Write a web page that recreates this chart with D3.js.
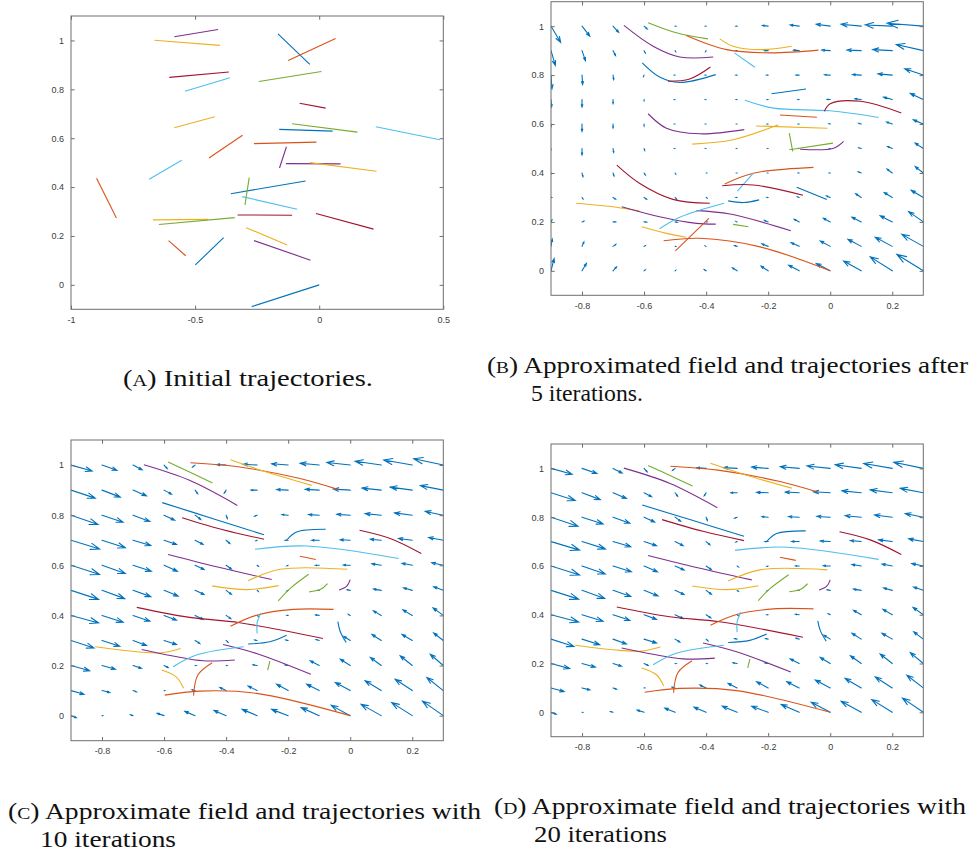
<!DOCTYPE html>
<html>
<head>
<meta charset="utf-8">
<script src="https://cdn.jsdelivr.net/npm/d3@7"></script>
<style>
  body { margin: 0; background: #fff; }
  svg { display: block; }
</style>
</head>
<body>
<svg id="fig" width="972" height="852"></svg>
<script>
// MATLAB default colour order
const lineColors = ["#0072BD", "#D95319", "#EDB120", "#7E2F8E", "#77AC30", "#4DBEEE", "#A2142F"];

// tick labels
const xTicksA = [-1, -0.5, 0, 0.5];
const xTicksField = [-0.8, -0.6, -0.4, -0.2, 0, 0.2];
const yTicks = [0, 0.2, 0.4, 0.6, 0.8, 1];

// quiver grid
const fieldCols = [-0.9, -0.8, -0.7, -0.6, -0.5, -0.4, -0.3, -0.2, -0.1, 0, 0.1, 0.2, 0.3];
const fieldRows = [1, 0.9, 0.8, 0.7, 0.6, 0.5, 0.4, 0.3, 0.2, 0.1, 0];

// (A) initial straight trajectories: [x1, y1, x2, y2]
const segA = [
  [-0.584, 1.015, -0.407, 1.045], [-0.664, 1.001, -0.400, 0.980], [-0.166, 1.027, -0.038, 0.902],
  [-0.125, 0.918, 0.066, 1.008], [-0.604, 0.849, -0.364, 0.871], [-0.541, 0.792, -0.360, 0.847],
  [-0.243, 0.832, 0.009, 0.873], [-0.079, 0.743, 0.026, 0.723], [-0.584, 0.643, -0.421, 0.688],
  [-0.109, 0.659, 0.154, 0.625], [-0.161, 0.636, 0.054, 0.629], [0.228, 0.647, 0.486, 0.594],
  [-0.444, 0.519, -0.309, 0.612], [-0.263, 0.578, -0.011, 0.584], [-0.132, 0.565, -0.160, 0.478],
  [-0.134, 0.496, 0.086, 0.495], [-0.038, 0.500, 0.231, 0.465], [-0.685, 0.432, -0.554, 0.510],
  [-0.897, 0.436, -0.817, 0.274], [-0.356, 0.373, -0.055, 0.425], [-0.282, 0.439, -0.299, 0.327],
  [-0.310, 0.361, -0.089, 0.309], [-0.670, 0.266, -0.447, 0.268], [-0.646, 0.247, -0.340, 0.275],
  [-0.329, 0.286, -0.109, 0.285], [-0.013, 0.292, 0.219, 0.228], [-0.294, 0.234, -0.129, 0.163],
  [-0.263, 0.181, -0.035, 0.101], [-0.607, 0.181, -0.538, 0.119], [-0.499, 0.082, -0.385, 0.193],
  [-0.272, -0.089, 0.000, 0.000]
];
const segAColor = [3, 2, 0, 1, 6, 5, 4, 6, 2, 4, 0, 5, 1, 1, 3, 3, 2, 5, 1, 0, 4, 5, 2, 4, 6, 6, 2, 3, 1, 0, 0];

// (B) field after 5 iterations, rows y = 1 .. 0, columns x = -0.9 .. 0.3
const fieldU5 = [
  [0.031, 0.025, 0.018, 0.010, 0.002, -0.002, -0.004, -0.018, -0.029, -0.045, -0.065, -0.087, -0.117],
  [0.014, 0.011, 0.008, 0.004, 0.002, -0.002, -0.004, -0.012, -0.018, -0.027, -0.046, -0.063, -0.087],
  [0.003, 0.002, 0.002, -0.002, -0.002, -0.003, -0.004, -0.005, -0.010, -0.018, -0.028, -0.046, -0.060],
  [0.002, 0.000, 0.000, 0.000, -0.002, -0.002, -0.003, -0.003, -0.004, -0.010, -0.020, -0.028, -0.042],
  [0.000, 0.000, 0.000, 0.000, -0.002, -0.002, -0.002, -0.003, -0.003, -0.004, -0.008, -0.018, -0.032],
  [0.000, 0.000, 0.002, 0.002, -0.002, -0.002, -0.002, -0.002, -0.003, -0.003, -0.008, -0.015, -0.026],
  [0.000, 0.003, 0.003, 0.004, 0.002, 0.002, -0.002, -0.002, -0.003, -0.003, -0.010, -0.017, -0.026],
  [0.002, 0.003, 0.008, 0.008, 0.005, 0.003, -0.004, -0.004, -0.006, -0.012, -0.018, -0.026, -0.039],
  [0.003, 0.006, 0.008, 0.008, 0.007, 0.003, -0.004, -0.012, -0.016, -0.022, -0.030, -0.039, -0.047],
  [0.004, 0.006, 0.009, 0.004, 0.002, -0.003, -0.008, -0.020, -0.026, -0.032, -0.043, -0.055, -0.069],
  [0.010, 0.014, 0.011, 0.004, 0.002, -0.006, -0.015, -0.023, -0.034, -0.045, -0.057, -0.071, -0.085]
];
const fieldV5 = [
  [-0.066, -0.041, -0.025, -0.011, 0.000, 0.000, 0.000, 0.003, 0.005, 0.008, 0.008, 0.005, 0.012],
  [-0.060, -0.041, -0.020, -0.010, -0.004, -0.004, 0.000, 0.000, 0.002, 0.002, 0.002, 0.004, 0.025],
  [-0.056, -0.038, -0.018, -0.006, 0.000, 0.000, 0.000, 0.000, 0.000, 0.001, 0.002, 0.005, 0.026],
  [-0.030, -0.030, -0.016, -0.005, 0.000, 0.000, 0.000, 0.000, 0.000, 0.001, 0.003, 0.010, 0.025],
  [-0.010, -0.030, -0.016, -0.008, 0.000, 0.000, 0.000, 0.000, 0.000, 0.001, 0.003, 0.008, 0.017],
  [-0.004, -0.026, -0.016, -0.008, 0.000, 0.000, 0.000, 0.000, 0.000, 0.000, 0.003, 0.008, 0.022],
  [-0.003, -0.015, -0.012, -0.008, -0.004, 0.000, 0.000, 0.000, 0.000, 0.000, 0.005, 0.016, 0.026],
  [0.000, -0.006, -0.007, -0.007, -0.007, -0.003, 0.000, 0.000, 0.003, 0.006, 0.015, 0.020, 0.029],
  [0.008, 0.003, 0.000, -0.001, -0.002, 0.000, 0.002, 0.006, 0.011, 0.015, 0.019, 0.025, 0.042],
  [0.030, 0.018, 0.008, 0.003, 0.000, 0.002, 0.003, 0.010, 0.015, 0.022, 0.029, 0.037, 0.049],
  [0.050, 0.030, 0.016, 0.004, 0.002, 0.005, 0.012, 0.019, 0.023, 0.030, 0.040, 0.057, 0.067]
];

// (B) trajectories after 5 iterations
const trajB = [
  [[-0.587, 1.014], [-0.496, 0.973], [-0.394, 0.948]],
  [[-0.665, 1.003], [-0.571, 0.918], [-0.485, 0.874], [-0.377, 0.874]],
  [[-0.464, 0.962], [-0.334, 0.904], [-0.194, 0.891], [-0.038, 0.902]],
  [[-0.356, 0.948], [-0.313, 0.918], [-0.226, 0.904], [-0.124, 0.918]],
  [[-0.309, 0.891], [-0.243, 0.832]],
  [[-0.606, 0.850], [-0.550, 0.792], [-0.485, 0.770], [-0.369, 0.802]],
  [[-0.523, 0.775], [-0.453, 0.784], [-0.386, 0.833]],
  [[-0.189, 0.724], [-0.078, 0.743]],
  [[-0.275, 0.697], [-0.183, 0.665], [0.000, 0.654], [0.156, 0.627]],
  [[-0.019, 0.652], [0.000, 0.683], [0.097, 0.693], [0.229, 0.645]],
  [[-0.162, 0.637], [-0.043, 0.628]],
  [[-0.587, 0.642], [-0.528, 0.583], [-0.420, 0.560], [-0.277, 0.577]],
  [[-0.445, 0.518], [-0.313, 0.536], [-0.167, 0.597]],
  [[-0.239, 0.592], [-0.009, 0.583]],
  [[-0.132, 0.563], [-0.121, 0.488]],
  [[-0.132, 0.495], [0.009, 0.522]],
  [[-0.097, 0.497], [0.011, 0.501], [0.043, 0.529]],
  [[-0.688, 0.432], [-0.615, 0.358], [-0.507, 0.292], [-0.388, 0.276]],
  [[-0.340, 0.355], [-0.248, 0.399], [-0.054, 0.423]],
  [[-0.299, 0.326], [-0.248, 0.399]],
  [[-0.348, 0.348], [-0.248, 0.351], [-0.088, 0.309]],
  [[-0.108, 0.342], [-0.011, 0.292]],
  [[-0.329, 0.286], [-0.280, 0.279], [-0.229, 0.290]],
  [[-0.819, 0.276], [-0.690, 0.260], [-0.615, 0.245]],
  [[-0.672, 0.262], [-0.550, 0.221], [-0.431, 0.194], [-0.369, 0.191]],
  [[-0.431, 0.246], [-0.323, 0.232], [-0.127, 0.164]],
  [[-0.550, 0.172], [-0.485, 0.219], [-0.342, 0.276]],
  [[-0.313, 0.190], [-0.264, 0.180]],
  [[-0.608, 0.180], [-0.528, 0.153], [-0.464, 0.137]],
  [[-0.499, 0.082], [-0.391, 0.214]],
  [[-0.537, 0.123], [-0.420, 0.133], [-0.226, 0.098], [0.000, 0.000]]
];
const trajBColor = [4, 3, 1, 2, 5, 0, 6, 0, 5, 6, 1, 3, 2, 2, 4, 4, 3, 6, 1, 5, 6, 0, 0, 2, 3, 3, 5, 4, 2, 1, 1];

// (C)/(D) converged field, rows y = 1 .. 0, columns x = -0.9 .. 0.3
const fieldU10 = [
  [0.068, 0.048, 0.029, 0.010, -0.008, -0.030, -0.045, -0.053, -0.061, -0.075, -0.084, -0.092, -0.095],
  [0.078, 0.059, 0.043, 0.024, 0.008, -0.006, -0.020, -0.037, -0.045, -0.054, -0.062, -0.071, -0.074],
  [0.087, 0.068, 0.054, 0.034, 0.018, 0.004, -0.008, -0.020, -0.034, -0.043, -0.052, -0.057, -0.058],
  [0.092, 0.075, 0.057, 0.040, 0.026, 0.012, -0.004, -0.010, -0.024, -0.032, -0.035, -0.044, -0.047],
  [0.092, 0.075, 0.059, 0.043, 0.029, 0.017, 0.004, -0.004, -0.012, -0.022, -0.030, -0.033, -0.037],
  [0.089, 0.073, 0.057, 0.045, 0.029, 0.017, 0.004, -0.004, -0.006, -0.010, -0.025, -0.028, -0.031],
  [0.089, 0.068, 0.054, 0.040, 0.026, 0.015, 0.004, -0.004, -0.012, -0.006, -0.025, -0.030, -0.033],
  [0.074, 0.057, 0.043, 0.040, 0.015, 0.006, -0.008, -0.008, -0.010, -0.020, -0.030, -0.033, -0.031],
  [0.060, 0.043, 0.027, 0.013, 0.003, 0.003, -0.013, -0.010, -0.029, -0.032, -0.035, -0.039, -0.042],
  [0.042, 0.025, 0.011, 0.002, -0.010, -0.020, -0.029, -0.037, -0.040, -0.048, -0.052, -0.055, -0.053],
  [0.017, 0.002, -0.008, -0.022, -0.033, -0.039, -0.048, -0.053, -0.058, -0.061, -0.065, -0.066, -0.067]
];
const fieldV10 = [
  [-0.024, -0.021, -0.019, -0.014, -0.008, 0.002, 0.003, 0.005, 0.007, 0.010, 0.015, 0.020, 0.025],
  [-0.032, -0.028, -0.023, -0.016, -0.014, -0.012, 0.000, 0.002, 0.003, 0.004, 0.008, 0.012, 0.018],
  [-0.037, -0.028, -0.025, -0.020, -0.017, -0.013, -0.004, 0.002, 0.002, 0.003, 0.006, 0.009, 0.015],
  [-0.035, -0.030, -0.021, -0.017, -0.017, -0.013, -0.002, 0.000, 0.000, 0.002, 0.004, 0.007, 0.011],
  [-0.037, -0.033, -0.024, -0.024, -0.017, -0.015, -0.004, -0.002, 0.000, 0.001, 0.006, 0.008, 0.010],
  [-0.036, -0.033, -0.025, -0.023, -0.017, -0.016, -0.004, -0.002, 0.000, 0.002, 0.005, 0.010, 0.014],
  [-0.030, -0.027, -0.023, -0.019, -0.016, -0.013, -0.004, 0.000, 0.002, 0.004, 0.018, 0.022, 0.030],
  [-0.030, -0.023, -0.020, -0.016, -0.012, -0.007, 0.002, 0.002, 0.004, 0.016, 0.024, 0.024, 0.030],
  [-0.021, -0.015, -0.011, -0.008, 0.000, 0.000, 0.003, 0.002, 0.019, 0.025, 0.032, 0.039, 0.045],
  [-0.015, -0.008, -0.005, 0.000, 0.003, 0.012, 0.018, 0.025, 0.025, 0.032, 0.039, 0.045, 0.052],
  [-0.008, 0.000, 0.003, 0.009, 0.017, 0.021, 0.025, 0.025, 0.032, 0.041, 0.045, 0.052, 0.058]
];

// (C)/(D) trajectories
const trajC = [
  [[-0.587, 1.012], [-0.518, 0.972], [-0.444, 0.928]],
  [[-0.665, 1.001], [-0.518, 0.939], [-0.364, 0.839]],
  [[-0.515, 1.009], [-0.356, 0.992], [-0.162, 0.946], [-0.038, 0.902]],
  [[-0.386, 1.021], [-0.270, 0.972], [-0.124, 0.919]],
  [[-0.606, 0.850], [-0.442, 0.786], [-0.278, 0.722]],
  [[-0.542, 0.790], [-0.410, 0.742], [-0.278, 0.704]],
  [[-0.205, 0.700], [-0.173, 0.733], [-0.079, 0.744]],
  [[-0.307, 0.664], [-0.140, 0.677], [0.156, 0.627]],
  [[0.030, 0.740], [0.129, 0.707], [0.229, 0.647]],
  [[-0.162, 0.636], [-0.111, 0.623]],
  [[-0.587, 0.643], [-0.431, 0.594], [-0.253, 0.543]],
  [[-0.329, 0.538], [-0.226, 0.584], [-0.009, 0.584]],
  [[-0.445, 0.518], [-0.334, 0.503], [-0.231, 0.519]],
  [[-0.232, 0.458], [-0.194, 0.507], [-0.134, 0.564]],
  [[-0.132, 0.494], [-0.097, 0.503], [-0.073, 0.527]],
  [[-0.036, 0.501], [-0.011, 0.517], [0.000, 0.543]],
  [[-0.688, 0.432], [-0.518, 0.392], [-0.356, 0.371], [-0.088, 0.308]],
  [[-0.386, 0.357], [-0.302, 0.401], [-0.183, 0.424], [-0.054, 0.424]],
  [[-0.288, 0.410], [-0.300, 0.371], [-0.300, 0.328]],
  [[-0.040, 0.375], [-0.032, 0.335], [-0.013, 0.292]],
  [[-0.329, 0.286], [-0.259, 0.295], [-0.205, 0.321]],
  [[-0.822, 0.275], [-0.679, 0.254], [-0.609, 0.251], [-0.547, 0.268]],
  [[-0.672, 0.264], [-0.571, 0.238], [-0.474, 0.219], [-0.372, 0.222]],
  [[-0.410, 0.284], [-0.302, 0.248], [-0.127, 0.165]],
  [[-0.571, 0.195], [-0.496, 0.242], [-0.343, 0.275]],
  [[-0.259, 0.218], [-0.266, 0.182]],
  [[-0.608, 0.182], [-0.561, 0.155], [-0.537, 0.109]],
  [[-0.445, 0.211], [-0.491, 0.162], [-0.505, 0.080]],
  [[-0.598, 0.082], [-0.485, 0.098], [-0.302, 0.089], [0.000, 0.000]]
];
const trajCColor = [4, 3, 1, 2, 0, 6, 0, 5, 6, 1, 3, 2, 2, 4, 4, 3, 6, 1, 5, 0, 0, 2, 3, 3, 5, 4, 2, 1, 1];

const svg = d3.select("#fig");

const panels = [
  { key: "A", box: [71, 16, 443.3, 309.3], xDomain: [-1, 0.5], xTicks: xTicksA },
  { key: "B", box: [551, 1.7, 923.3, 295.3], xDomain: [-0.9, 0.3], xTicks: xTicksField, U: fieldU5, V: fieldV5, traj: trajB, trajColor: trajBColor },
  { key: "C", box: [71, 440, 443.3, 740.7], xDomain: [-0.9, 0.3], xTicks: xTicksField, U: fieldU10, V: fieldV10, traj: trajC, trajColor: trajCColor },
  { key: "D", box: [551, 444, 923.3, 736.7], xDomain: [-0.9, 0.3], xTicks: xTicksField, U: fieldU10, V: fieldV10, traj: trajC, trajColor: trajCColor }
];

const curve = d3.line().curve(d3.curveCatmullRom.alpha(0.5));

panels.forEach(p => {
  const [l, t, r, b] = p.box;
  const x = d3.scaleLinear().domain(p.xDomain).range([l, r]);
  const y = d3.scaleLinear().domain([-0.1, 1.1]).range([b, t]);
  const g = svg.append("g");

  svg.append("clipPath").attr("id", "clip" + p.key)
    .append("rect").attr("x", l).attr("y", t).attr("width", r - l).attr("height", b - t);

  const plot = g.append("g").attr("clip-path", `url(#clip${p.key})`);

  // quiver field
  if (p.U) {
    const paths = [];
    fieldRows.forEach((fy, i) => fieldCols.forEach((fx, j) => {
      const x0 = x(fx), y0 = y(fy);
      const x1 = x(fx + p.U[i][j]), y1 = y(fy + p.V[i][j]);
      const dx = x1 - x0, dy = y1 - y0;
      const a = 0.3, s = 0.35;
      const h1x = x1 - a * (dx + s * dy), h1y = y1 - a * (dy - s * dx);
      const h2x = x1 - a * (dx - s * dy), h2y = y1 - a * (dy + s * dx);
      paths.push(`M${x0},${y0}L${x1},${y1}M${h1x},${h1y}L${x1},${y1}L${h2x},${h2y}`);
    }));
    plot.selectAll("path.q").data(paths).enter().append("path")
      .attr("class", "q")
      .attr("d", d => d)
      .attr("fill", "none")
      .attr("stroke", lineColors[0])
      .attr("stroke-width", 1.1)
      .attr("stroke-linecap", "round");
  }

  // trajectories
  if (p.key === "A") {
    plot.selectAll("line.s").data(segA).enter().append("line")
      .attr("x1", d => x(d[0])).attr("y1", d => y(d[1]))
      .attr("x2", d => x(d[2])).attr("y2", d => y(d[3]))
      .attr("stroke", (d, i) => lineColors[segAColor[i]])
      .attr("stroke-width", 1.1);
  } else {
    plot.selectAll("path.t").data(p.traj).enter().append("path")
      .attr("d", d => curve(d.map(q => [x(q[0]), y(q[1])])))
      .attr("fill", "none")
      .attr("stroke", (d, i) => lineColors[p.trajColor[i]])
      .attr("stroke-width", 1.1);
  }

  // axes, MATLAB style: box with inward ticks on all sides
  const tl = 3.7;
  const axisCol = "#6e6e6e";
  g.append("rect").attr("x", l).attr("y", t).attr("width", r - l).attr("height", b - t)
    .attr("fill", "none").attr("stroke", axisCol).attr("stroke-width", 1);

  const xa = g.append("g").attr("transform", `translate(0,${b})`)
    .call(d3.axisBottom(x).tickValues(p.xTicks).tickSize(-tl).tickFormat(d => String(d)));
  const xt = g.append("g").attr("transform", `translate(0,${t})`)
    .call(d3.axisTop(x).tickValues(p.xTicks).tickSize(-tl).tickFormat(""));
  const ya = g.append("g").attr("transform", `translate(${l},0)`)
    .call(d3.axisLeft(y).tickValues(yTicks).tickSize(-tl).tickFormat(d => String(d)));
  const yr = g.append("g").attr("transform", `translate(${r},0)`)
    .call(d3.axisRight(y).tickValues(yTicks).tickSize(-tl).tickFormat(""));

  [xa, xt, ya, yr].forEach(ax => {
    ax.select(".domain").remove();
    ax.selectAll(".tick line").attr("stroke", axisCol);
    ax.selectAll(".tick text")
      .attr("fill", "#3c3c3c")
      .attr("font-family", "'Liberation Sans', Arial, sans-serif")
      .attr("font-size", 9);
  });
  xa.selectAll(".tick text").attr("dy", "1.15em").attr("y", 3);
  ya.selectAll(".tick text").attr("x", -7);
});

// captions: [label, text, x start, x end, baseline]
const captions = [
  ["A", " Initial trajectories.", 123, 373, 386],
  ["B", " Approximated field and trajectories after", 487, 968, 373],
  ["", "5 iterations.", 531, 643, 401],
  ["C", " Approximate field and trajectories with", 8, 481, 819],
  ["", "10 iterations", 40, 176, 847],
  ["D", " Approximate field and trajectories with", 494, 966, 814],
  ["", "20 iterations", 534, 667, 842]
];

captions.forEach(c => {
  const tx = svg.append("text")
    .attr("x", c[2]).attr("y", c[4])
    .attr("font-family", "'Liberation Serif', 'DejaVu Serif', serif")
    .attr("font-size", 24)
    .attr("fill", "#111")
    .attr("textLength", c[3] - c[2])
    .attr("lengthAdjust", "spacingAndGlyphs");
  if (c[0]) {
    tx.append("tspan").text("(");
    tx.append("tspan").attr("font-size", 17).text(c[0]);
    tx.append("tspan").text(")");
  }
  tx.append("tspan").text(c[1]);
});
</script>
</body>
</html>
